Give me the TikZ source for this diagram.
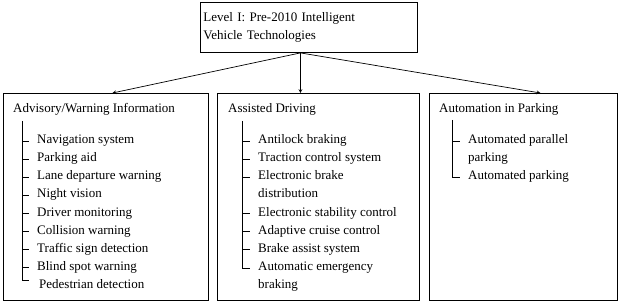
\documentclass[tikz,border=0pt]{standalone}
\usepackage{fontspec}
\setmainfont{Liberation Serif}
\usetikzlibrary{positioning}
\begin{document}
\begin{tikzpicture}[x=1pt,y=-1pt,>=stealth,
  frame/.style={draw,line width=0.9pt,anchor=north west,inner sep=0pt},
  head/.style={anchor=base west,inner sep=0pt},
  item/.style={anchor=base west,inner sep=0pt,text height=9pt,text depth=3pt},
  branch/.style={line width=0.9pt}]
\fontsize{13}{18.5}\selectfont
\useasboundingbox (0,0) rectangle (619,302);
\node[frame,minimum width=217pt,minimum height=50pt,text width=211pt,align=left,inner xsep=3pt] (top) at (200,2) {Level I: Pre-2010 Intelligent\\Vehicle Technologies};
\node[frame,minimum width=205pt,minimum height=207pt] (adv) at (3,93) {};
\node[frame,minimum width=202pt,minimum height=207pt] (asst) at (217,93) {};
\node[frame,minimum width=188pt,minimum height=207pt] (auto) at (429,93) {};
\coordinate (hub) at ([xshift=-8.5pt]top.south);
\draw[->,line width=0.7pt] (hub) -- ([xshift=6.5pt]adv.north);
\draw[->,line width=0.7pt] (hub) -- ([xshift=-18pt]asst.north);
\draw[->,line width=0.7pt] (hub) -- ([xshift=17pt]auto.north);
% advisory / warning
\node[head] (advh) at (13,113) {Advisory/Warning Information};
\coordinate (advr) at (22,121);
\foreach \t [count=\i] in {Navigation system,Parking aid,Lane departure warning,Night vision,Driver monitoring,Collision warning,Traffic sign detection,Blind spot warning}
  \node[item] (a\i) at (37,{126+18*\i}) {\t};
\node[item] (a9) at (39,288) {Pedestrian detection};
\foreach \i in {1,...,8}
  \draw[branch] (advr |- a\i.west) -- ([xshift=-8pt]a\i.west);
\draw[branch] (advr) |- ([xshift=-10pt,yshift=5pt]a9.west);
% assisted driving
\node[head] (asth) at (228,113) {Assisted Driving};
\coordinate (asstr) at (242,121);
\foreach \t [count=\i] in {Antilock braking,Traction control system,Electronic brake,distribution,Electronic stability control,Adaptive cruise control,Brake assist system,Automatic emergency,braking}
  \node[item] (b\i) at (258,{126+18*\i}) {\t};
\foreach \i in {1,2,3,5,6,7}
  \draw[branch] (asstr |- b\i.west) -- ([xshift=-8pt]b\i.west);
\draw[branch] (asstr) |- ([xshift=-8pt,yshift=-1pt]b8.west);
% parking
\node[head] (auth) at (439,113) {Automation in Parking};
\coordinate (autor) at (452,120);
\foreach \t [count=\i] in {Automated parallel,parking,Automated parking}
  \node[item] (c\i) at (468,{126+18*\i}) {\t};
\draw[branch] (autor |- c1.west) -- ([xshift=-8pt]c1.west);
\draw[branch] (autor) |- ([xshift=-8pt]c3.west);
\end{tikzpicture}
\end{document}
